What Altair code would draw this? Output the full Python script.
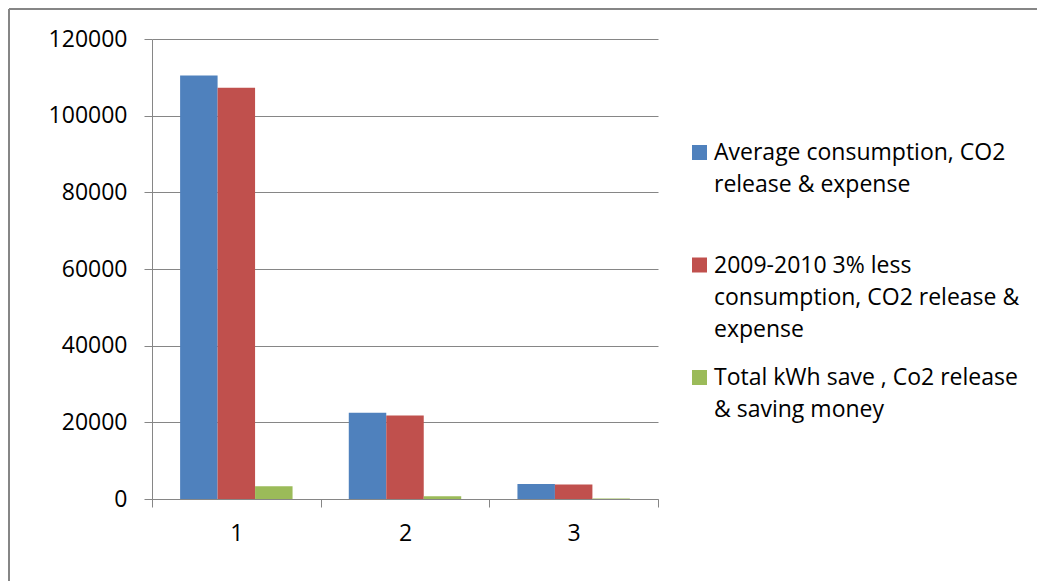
import altair as alt
import pandas as pd

categories = ["1", "2", "3"]
series_names = [
    "Average consumption, CO2 release & expense",
    "2009-2010 3% less consumption, CO2 release & expense",
    "Total kWh save , Co2 release & saving money",
]
avg_vals = [110500, 22500, 3900]
less_vals = [107300, 21800, 3800]
save_vals = [3300, 700, 117]
legend_lines = [
    "Average consumption, CO2\nrelease & expense",
    "2009-2010 3% less\nconsumption, CO2 release &\nexpense",
    "Total kWh save , Co2 release\n& saving money",
]
colors = ["#4F81BD", "#C0504D", "#9BBB59"]
y_ticks = [0, 20000, 40000, 60000, 80000, 100000, 120000]

rows = []
for s, vals in zip(series_names, [avg_vals, less_vals, save_vals]):
    for c, v in zip(categories, vals):
        rows.append({"category": c, "series": s, "value": v})
df = pd.DataFrame(rows)
legend_df = pd.DataFrame({"series": series_names, "label": legend_lines})

FONT = "Open Sans"
FS = 23
GRAY = "#868686"
color_scale = alt.Scale(domain=series_names, range=colors)

bars = alt.Chart(df).mark_bar().encode(
    x=alt.X(
        "category:N",
        sort=categories,
        scale=alt.Scale(paddingInner=0, paddingOuter=0),
        axis=alt.Axis(
            title=None, labelAngle=0, tickBand="extent", grid=False,
            domainColor=GRAY, tickColor=GRAY, tickSize=8,
            labelFont=FONT, labelFontSize=FS, labelColor="black", labelPadding=15,
        ),
    ),
    xOffset=alt.XOffset(
        "series:N", sort=series_names,
        scale=alt.Scale(paddingOuter=0.75, paddingInner=0),
    ),
    y=alt.Y(
        "value:Q",
        scale=alt.Scale(domain=[0, 120000], nice=False),
        axis=alt.Axis(
            title=None, values=y_ticks, format="d", grid=True, gridColor=GRAY,
            domainColor=GRAY, tickColor=GRAY, tickSize=8,
            labelFont=FONT, labelFontSize=FS, labelColor="black", labelPadding=17,
        ),
    ),
    color=alt.Color("series:N", scale=color_scale, legend=None),
)

leg_y = alt.Y(
    "series:N", sort=series_names,
    scale=alt.Scale(type="point", domain=series_names, range=[103, 328], padding=0),
    axis=None,
)

legend_text = alt.Chart(legend_df).mark_text(
    align="left", baseline="top", lineBreak="\n", lineHeight=32,
    font=FONT, fontSize=FS, color="black",
).encode(x=alt.value(562), y=leg_y, text="label:N")

legend_sq = alt.Chart(legend_df).mark_square(
    size=225, opacity=1, filled=True, yOffset=10.5
).encode(
    x=alt.value(547.5), y=leg_y,
    color=alt.Color("series:N", scale=color_scale, legend=None),
)

frame_df = pd.DataFrame({"k": [0]})
top_border = alt.Chart(frame_df).mark_rule(color=GRAY, strokeWidth=2).encode(
    x=alt.value(-143), x2=alt.value(900), y=alt.value(-30)
)
left_border = alt.Chart(frame_df).mark_rule(color=GRAY, strokeWidth=2).encode(
    x=alt.value(-143), y=alt.value(-30), y2=alt.value(600)
)

chart = alt.layer(bars, legend_text, legend_sq, top_border, left_border).resolve_scale(
    y="independent"
).properties(
    width=506,
    height=460,
    autosize=alt.AutoSizeParams(type="none"),
    padding={"left": 152, "top": 39, "right": 379, "bottom": 82},
    background="white",
).configure_view(stroke=None)

chart.save("out.html", embed_options={"renderer": "svg", "actions": False})
